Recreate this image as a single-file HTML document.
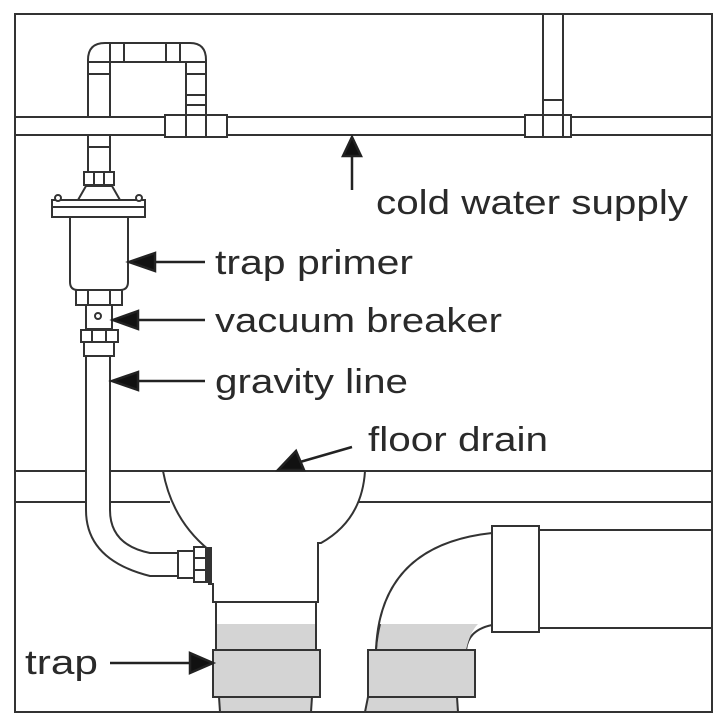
<!DOCTYPE html>
<html><head><meta charset="utf-8"><style>
html,body{margin:0;padding:0;background:#fff}
svg{display:block}
text{font-family:"Liberation Sans",sans-serif;font-size:34px;fill:#2a2a2a}
</style></head><body>
<svg width="720" height="720" viewBox="0 0 720 720" xmlns="http://www.w3.org/2000/svg">
<rect width="720" height="720" fill="#fff"/>
<g fill="none" stroke="#333" stroke-width="2">
<rect x="15" y="14" width="697" height="698"/>
<line x1="15" y1="117" x2="712" y2="117"/>
<line x1="15" y1="135" x2="712" y2="135"/>
<line x1="15" y1="471" x2="86" y2="471"/><line x1="110" y1="471" x2="163" y2="471"/><line x1="365" y1="471" x2="712" y2="471"/>
<line x1="15" y1="502" x2="86" y2="502"/><line x1="110" y1="502" x2="170" y2="502"/><line x1="355" y1="502" x2="712" y2="502"/>
</g>
<g fill="#fff" stroke="#333" stroke-width="2">
<path d="M88 117 V60 Q88 43 105 43 H190 Q206 43 206 60 V117 H186 V62 H110 V117 Z"/>
<rect x="110" y="43" width="14" height="19"/><rect x="166" y="43" width="14" height="19"/>
<rect x="88" y="62" width="22" height="12"/><rect x="186" y="62" width="20" height="12"/>
<rect x="186" y="95" width="20" height="10"/>
<rect x="165" y="115" width="62" height="22"/>
<line x1="186" y1="115" x2="186" y2="137"/><line x1="206" y1="115" x2="206" y2="137"/>
<rect x="543" y="14" width="20" height="101"/>
<rect x="525" y="115" width="46" height="22"/>
<line x1="543" y1="115" x2="543" y2="137"/><line x1="563" y1="115" x2="563" y2="137"/>
<rect x="543" y="100" width="20" height="15"/>
<rect x="88" y="135" width="22" height="37"/>
<rect x="88" y="135" width="22" height="12"/>
<rect x="84" y="172" width="30" height="13"/>
<line x1="94" y1="172" x2="94" y2="185"/><line x1="104" y1="172" x2="104" y2="185"/>
<path d="M78 200 L86 186 H112 L120 200 Z"/>
<rect x="52" y="200" width="93" height="17"/>
<line x1="52" y1="207" x2="145" y2="207"/>
<circle cx="58" cy="198" r="3"/><circle cx="139" cy="198" r="3"/>
<path d="M70 217 V282 Q70 290 78 290 H120 Q128 290 128 282 V217 Z"/>
<rect x="76" y="290" width="46" height="15"/>
<line x1="88" y1="290" x2="88" y2="305"/><line x1="110" y1="290" x2="110" y2="305"/>
<rect x="86" y="305" width="26" height="24"/>
<circle cx="98" cy="316" r="3"/>
<rect x="81" y="330" width="37" height="12"/>
<line x1="92" y1="330" x2="92" y2="342"/><line x1="106" y1="330" x2="106" y2="342"/>
<rect x="84" y="342" width="30" height="14"/>
<path d="M86 356 V510 Q86 560 150 576 H180 V553 H150 Q110 545 110 510 V356 Z"/>
<rect x="178" y="551" width="16" height="27"/>
<rect x="194" y="547" width="12" height="35"/>
<line x1="194" y1="558" x2="206" y2="558"/><line x1="194" y1="570" x2="206" y2="570"/>
<path d="M163 471 H365 Q362 520 321 543 H318 V602 H213 V584 H209 V550 Q172 520 163 471 Z"/>
<rect x="206" y="548" width="5" height="34" fill="#333"/>
<path d="M216 602 V650 M316 602 V650" />
<rect x="217" y="624" width="98" height="26" fill="#d4d4d4" stroke="none"/>
<rect x="213" y="650" width="107" height="47" fill="#d4d4d4"/>
<path d="M219 697 L220 712 H311 L312 697 Z" fill="#d4d4d4"/>
<path d="M376 650 Q380 545 492 533 V625 Q468 630 466 650 Z" fill="#fff"/>
<path d="M380 624 H478 Q470 632 466 650 H377 Z" fill="#d4d4d4" stroke="none"/>
<path d="M376 650 Q377 636 380 624" fill="none"/>
<rect x="368" y="650" width="107" height="47" fill="#d4d4d4"/>
<path d="M368 697 L365 712 H458 L457 697 Z" fill="#d4d4d4"/>
<rect x="492" y="526" width="47" height="106"/>
<line x1="539" y1="530" x2="712" y2="530"/>
<line x1="539" y1="628" x2="712" y2="628"/>
</g>
<g stroke="#222" stroke-width="2.5" fill="#111">
<line x1="352" y1="190" x2="352" y2="150"/><path d="M343 156 L352 137 L361 156 Z"/>
<line x1="205" y1="262" x2="150" y2="262"/><path d="M155 253 L129 262 L155 271 Z"/>
<line x1="205" y1="320" x2="135" y2="320"/><path d="M138 311 L113 320 L138 329 Z"/>
<line x1="205" y1="381" x2="135" y2="381"/><path d="M138 372 L112 381 L138 390 Z"/>
<line x1="352" y1="447" x2="300" y2="462"/><path d="M296 451 L278 470 L304 470 Z"/>
<line x1="110" y1="663" x2="195" y2="663"/><path d="M190 653 L213 663 L190 673 Z"/>
</g>
<text x="376" y="214" textLength="312" lengthAdjust="spacingAndGlyphs">cold water supply</text>
<text x="215" y="274" textLength="198" lengthAdjust="spacingAndGlyphs">trap primer</text>
<text x="215" y="332" textLength="287" lengthAdjust="spacingAndGlyphs">vacuum breaker</text>
<text x="215" y="393" textLength="193" lengthAdjust="spacingAndGlyphs">gravity line</text>
<text x="368" y="451" textLength="180" lengthAdjust="spacingAndGlyphs">floor drain</text>
<text x="25" y="674" textLength="73" lengthAdjust="spacingAndGlyphs">trap</text>
</svg>
</body></html>
